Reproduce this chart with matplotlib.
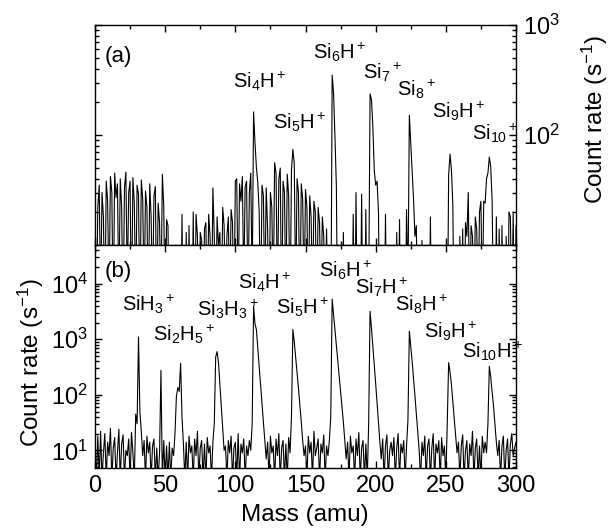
import matplotlib
matplotlib.use('Agg')
import matplotlib.pyplot as plt
from matplotlib.ticker import LogLocator, LogFormatterSciNotation, NullFormatter, MultipleLocator, FixedLocator

plt.rcParams['font.family'] = ['Liberation Sans', 'DejaVu Sans']
plt.rcParams['mathtext.fontset'] = 'custom'
plt.rcParams['mathtext.rm'] = 'Liberation Sans'
plt.rcParams['mathtext.it'] = 'Liberation Sans:italic'
plt.rcParams['mathtext.bf'] = 'Liberation Sans:bold'

# ---------------- data ----------------
mass = list(range(0, 301))

counts_a = [
    28, 2, 22, 35, 3, 30, 18, 2, 38, 25,
    3, 42, 30, 2, 45, 27, 36, 3, 40, 22,
    2, 33, 46, 4, 30, 38, 2, 41, 24, 3,
    35, 29, 2, 39, 26, 3, 31, 22, 2, 36,
    18, 3, 28, 34, 2, 24, 16, 3, 44, 22,
    2, 17, 15, 1, 1, 1, 1, 1, 1, 1,
    1, 1, 19, 1, 1, 13, 1, 15, 1, 1,
    20, 1, 19, 12, 1, 13, 11, 1, 14, 16,
    2, 19, 12, 2, 33, 12, 2, 18, 10, 13,
    2, 22, 15, 3, 12, 18, 3, 21, 16, 2,
    38, 40, 3, 36, 25, 42, 4, 34, 38, 3,
    30, 45, 4, 162, 85, 51, 37, 20, 2, 35,
    28, 3, 33, 14, 2, 30, 22, 3, 56, 45,
    3, 40, 50, 2, 38, 30, 3, 44, 28, 2,
    48, 74, 55, 3, 40, 30, 2, 36, 26, 3,
    32, 22, 2, 28, 18, 3, 25, 20, 2, 22,
    16, 3, 18, 12, 2, 14, 3, 1, 1, 350,
    240, 96, 34, 1, 1, 1, 1, 13, 1, 1,
    1, 1, 1, 1, 19, 1, 30, 1, 1, 1,
    29, 1, 1, 21, 1, 3, 236, 210, 118, 48,
    35, 38, 20, 1, 1, 1, 1, 19, 1, 1,
    1, 1, 1, 1, 1, 13, 1, 17, 1, 1,
    1, 1, 21, 4, 151, 85, 48, 26, 12, 15,
    1, 1, 1, 11, 1, 1, 1, 1, 1, 18,
    1, 1, 1, 1, 1, 1, 1, 1, 1, 1,
    1, 1, 43, 67, 48, 23, 1, 1, 1, 1,
    12, 1, 14, 1, 16, 12, 30, 2, 15, 12,
    2, 18, 14, 3, 20, 25, 3, 25, 24, 40,
    45, 63, 51, 25, 2, 1, 18, 1, 14, 1,
    15, 1, 1, 12, 1, 20, 18, 2, 20, 1,
    15,
]

counts_b = [
    12, 3, 18, 3, 22, 3, 9, 20, 3, 14,
    8, 25, 3, 11, 17, 3, 9, 24, 3, 13,
    19, 3, 10, 8, 16, 3, 21, 9, 3, 45,
    30, 1100, 48, 22, 8, 15, 3, 18, 9, 14,
    3, 12, 16, 3, 11, 3, 9, 275, 3, 15,
    3, 12, 3, 14, 3, 11, 8, 20, 93, 135,
    115, 370, 40, 13, 3, 14, 3, 18, 9, 12,
    3, 16, 8, 22, 3, 11, 15, 3, 13, 3,
    17, 9, 12, 3, 14, 30, 480, 600, 380, 150,
    62, 25, 10, 12, 3, 15, 9, 18, 3, 11,
    14, 3, 20, 3, 13, 9, 16, 3, 12, 8,
    15, 10, 30, 3950, 1900, 1500, 700, 330, 150, 70,
    32, 15, 7, 14, 3, 18, 9, 12, 3, 16,
    8, 20, 3, 11, 15, 3, 13, 3, 17, 9,
    40, 1500, 900, 480, 250, 130, 65, 32, 15, 8,
    12, 3, 18, 9, 14, 3, 22, 8, 11, 16,
    3, 13, 9, 19, 3, 12, 8, 15, 40, 5300,
    2800, 1500, 780, 410, 220, 115, 60, 32, 15, 7,
    14, 3, 18, 9, 12, 3, 16, 8, 21, 3,
    11, 15, 3, 13, 3, 30, 3200, 1600, 750, 340,
    160, 70, 30, 14, 7, 16, 3, 12, 19, 3,
    10, 14, 8, 17, 3, 11, 20, 3, 13, 9,
    15, 3, 12, 35, 1400, 750, 400, 200, 95, 45,
    22, 10, 3, 14, 8, 18, 3, 12, 16, 3,
    11, 20, 3, 13, 9, 15, 3, 17, 8, 12,
    3, 30, 380, 260, 150, 75, 38, 18, 9, 14,
    3, 12, 19, 3, 10, 15, 3, 13, 8, 22,
    3, 11, 16, 3, 12, 3, 18, 9, 14, 9,
    30, 325, 210, 110, 62, 30, 14, 8, 15, 3,
    12, 18, 3, 10, 16, 3, 13, 20, 8, 11,
    14,
]

labels_a = [r'Si$_4$H$^+$', r'Si$_5$H$^+$', r'Si$_6$H$^+$', r'Si$_7$$^+$',
            r'Si$_8$$^+$', r'Si$_9$H$^+$', r'Si$_{10}$$^+$']
label_x_a = [98.4, 127.0, 155.1, 190.8, 215.0, 240.4, 268.5]
label_y_a = [268, 113, 490, 323, 227, 145, 90]

labels_b = [r'SiH$_3$$^+$', r'Si$_2$H$_5$$^+$', r'Si$_3$H$_3$$^+$', r'Si$_4$H$^+$',
            r'Si$_5$H$^+$', r'Si$_6$H$^+$', r'Si$_7$H$^+$', r'Si$_8$H$^+$',
            r'Si$_9$H$^+$', r'Si$_{10}$H$^+$']
label_x_b = [19.5, 41.6, 72.5, 101.7, 128.8, 159.7, 185.3, 213.8, 234.7, 261.3]
label_y_b = [3250, 930, 2640, 8270, 2950, 13600, 6500, 3250, 1070, 466]

xticks = [0, 50, 100, 150, 200, 250, 300]

# ---------------- figure ----------------
fig = plt.figure(figsize=(6.1, 5.31), dpi=100)
L = 95 / 610
W = 421 / 610
ax1 = fig.add_axes([L, 1 - 245 / 531, W, 220 / 531])
ax2 = fig.add_axes([L, 1 - 468 / 531, W, 223 / 531], sharex=ax1)

ax1.plot(mass, counts_a, color='black', lw=0.8)
ax2.plot(mass, counts_b, color='black', lw=0.8)

for ax in (ax1, ax2):
    ax.set_yscale('log')
    ax.set_xlim(0, 300)
    ax.xaxis.set_major_locator(FixedLocator(xticks))
    ax.xaxis.set_minor_locator(MultipleLocator(25))
    ax.tick_params(which='both', direction='in', top=True, bottom=True,
                   left=True, right=True, width=1.0, labelsize=17)
    ax.tick_params(which='major', length=5)
    ax.tick_params(which='minor', length=3)
    ax.yaxis.set_minor_locator(LogLocator(base=10, subs=[2, 3, 4, 5, 6, 7, 8, 9], numticks=20))
    ax.yaxis.set_minor_formatter(NullFormatter())
    for s in ax.spines.values():
        s.set_linewidth(1.0)

ax1.set_ylim(10, 1000)
ax1.yaxis.set_major_locator(FixedLocator([100, 1000]))
ax1.yaxis.set_major_formatter(LogFormatterSciNotation())
ax1.tick_params(labelbottom=False, labelleft=False, labelright=True, pad=5)

ax2.set_ylim(4.8, 5e4)
ax2.yaxis.set_major_locator(FixedLocator([10, 100, 1000, 10000]))
ax2.yaxis.set_major_formatter(LogFormatterSciNotation())
ax2.tick_params(labelleft=True, labelright=False, labelbottom=True, pad=5)

fig.text(305 / 610, 1 - 515 / 531, 'Mass (amu)', fontsize=17.5, ha='center', va='center')
fig.text(31 / 610, 1 - 363 / 531, r'Count rate (s$^{-1}$)', fontsize=17.5,
         rotation=90, ha='center', va='center')
fig.text(595 / 610, 1 - 120 / 531, r'Count rate (s$^{-1}$)', fontsize=17.5,
         rotation=90, ha='center', va='center')

ax1.text(7.1, 457, '(a)', fontsize=16, ha='left', va='baseline')
ax2.text(7.1, 13200, '(b)', fontsize=16, ha='left', va='baseline')

for t, x, y in zip(labels_a, label_x_a, label_y_a):
    ax1.text(x, y, t, fontsize=14.5, ha='left', va='baseline')
for t, x, y in zip(labels_b, label_x_b, label_y_b):
    ax2.text(x, y, t, fontsize=14.5, ha='left', va='baseline')

fig.savefig('out.png', dpi=100)
